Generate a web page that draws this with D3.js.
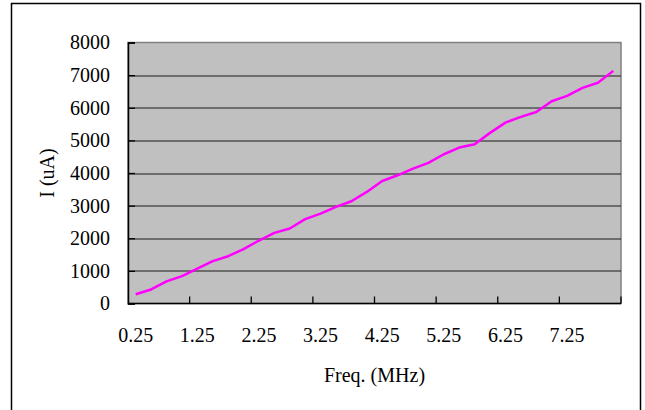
<!DOCTYPE html>
<html lang="en">

<head>
    <script src="https://d3js.org/d3.v7.min.js"></script>
    <style>
        body {
            margin: 0;
            background: #fff;
        }

        text {
            font-family: "Liberation Serif", "Times New Roman", serif;
            fill: #000;
        }
    </style>
</head>

<body>
    <div id="chart"></div>
    <script>
        // frequency categories (MHz)
        var freqs = ["0.25", "0.5", "0.75", "1", "1.25", "1.5", "1.75", "2", "2.25", "2.5", "2.75", "3",
            "3.25", "3.5", "3.75", "4", "4.25", "4.5", "4.75", "5", "5.25", "5.5", "5.75", "6",
            "6.25", "6.5", "6.75", "7", "7.25", "7.5", "7.75", "8"];
        // current (uA)
        var current = [285, 430, 680, 840, 1070, 1300, 1450, 1665, 1930, 2165, 2300, 2585,
            2755, 2960, 3135, 3420, 3755, 3930, 4135, 4310, 4575, 4780, 4880, 5230,
            5545, 5720, 5870, 6200, 6365, 6610, 6765, 7130];
        var xLabels = ["0.25", "1.25", "2.25", "3.25", "4.25", "5.25", "6.25", "7.25"];
        var yTicks = [0, 1000, 2000, 3000, 4000, 5000, 6000, 7000, 8000];

        var W = 645, H = 410;
        var margin = { top: 42.5, right: 24, bottom: 106.5, left: 128 };
        var width = W - margin.left - margin.right,
            height = H - margin.top - margin.bottom;

        var svg = d3.select("#chart")
            .append("svg")
            .attr("width", W)
            .attr("height", H);

        // outer frame
        svg.append("rect")
            .attr("x", 11.5)
            .attr("y", 3.5)
            .attr("width", 629)
            .attr("height", 430)
            .attr("fill", "none")
            .attr("stroke", "#000")
            .attr("stroke-width", 1.5);

        var g = svg.append("g")
            .attr("transform", "translate(" + margin.left + "," + margin.top + ")");

        var x = d3.scaleBand()
            .domain(freqs)
            .range([0, width])
            .padding(0);

        var y = d3.scaleLinear()
            .domain([0, 8000])
            .range([height, 0]);

        // plot background
        g.append("rect")
            .attr("width", width)
            .attr("height", height)
            .attr("fill", "#c0c0c0")
            .attr("stroke", "#808080")
            .attr("stroke-width", 1.5);

        // gridlines
        g.selectAll(".grid")
            .data(yTicks.filter(function(d) { return d > 0 && d < 8000; }))
            .enter()
            .append("line")
            .attr("x1", 0)
            .attr("x2", width)
            .attr("y1", function(d) { return Math.round(y(d)) + 0.5; })
            .attr("y2", function(d) { return Math.round(y(d)) + 0.5; })
            .attr("stroke", "#1a1a1a")
            .attr("stroke-width", 1);

        // y axis: labels
        var yAxis = g.append("g")
            .call(d3.axisLeft(y).tickValues(yTicks).tickSize(0).tickPadding(18).tickFormat(d3.format("d")));
        yAxis.select(".domain").remove();
        yAxis.selectAll("text")
            .attr("font-size", "20px");

        // y axis: inner ticks and line
        var yTickG = g.append("g")
            .call(d3.axisRight(y).tickValues(yTicks).tickSize(7).tickFormat(""));
        yTickG.selectAll("line").attr("stroke", "#000").attr("stroke-width", 1.3);
        yTickG.select(".domain").attr("stroke", "#000").attr("stroke-width", 1.5);

        // x axis: labels centred on categories
        var xAxis = g.append("g")
            .attr("transform", "translate(0," + height + ")")
            .call(d3.axisBottom(x).tickValues(xLabels).tickSize(0).tickPadding(24));
        xAxis.select(".domain").remove();
        xAxis.selectAll("text")
            .attr("font-size", "20px");

        // x axis: ticks at every 4th category boundary
        var tickPos = freqs.filter(function(d, i) { return i % 4 === 0 && i > 0; })
            .map(function(d) { return x(d); });
        tickPos.push(width);
        g.selectAll(".xtick")
            .data(tickPos)
            .enter()
            .append("line")
            .attr("x1", function(d) { return d; })
            .attr("x2", function(d) { return d; })
            .attr("y1", height)
            .attr("y2", height - 7)
            .attr("stroke", "#000")
            .attr("stroke-width", 1.3);
        g.append("line")
            .attr("x1", 0)
            .attr("x2", width)
            .attr("y1", height)
            .attr("y2", height)
            .attr("stroke", "#000")
            .attr("stroke-width", 1.5);

        // data line
        var line = d3.line()
            .x(function(d, i) { return x(freqs[i]) + x.bandwidth() / 2; })
            .y(function(d) { return y(d); });

        g.append("path")
            .datum(current)
            .attr("d", line)
            .attr("fill", "none")
            .attr("stroke", "#ff00ff")
            .attr("stroke-width", 2.5)
            .attr("stroke-linejoin", "round");

        // axis titles
        svg.append("text")
            .attr("transform", "translate(" + 47 + "," + (margin.top + height / 2) + ") rotate(-90)")
            .attr("text-anchor", "middle")
            .attr("dy", "0.35em")
            .attr("font-size", "20px")
            .text("I (uA)");

        svg.append("text")
            .attr("x", margin.left + width / 2)
            .attr("y", 375)
            .attr("text-anchor", "middle")
            .attr("dy", "0.35em")
            .attr("font-size", "20px")
            .text("Freq. (MHz)");
    </script>
</body>

</html>
